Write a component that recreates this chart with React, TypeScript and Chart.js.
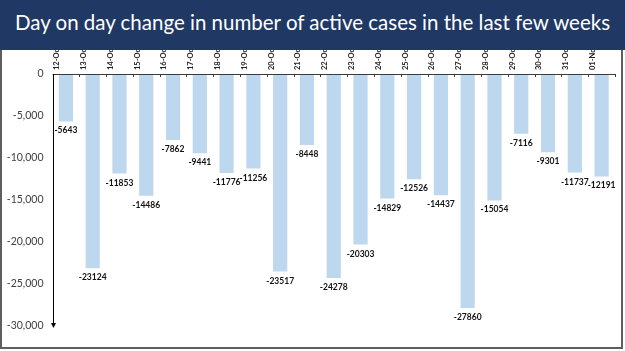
import React, { useEffect, useRef } from "react";
import { Chart, registerables } from "chart.js";

Chart.register(...registerables);

const TITLE = "Day on day change in number of active cases in the last few weeks";

const categories = [
  "12-Oct", "13-Oct", "14-Oct", "15-Oct", "16-Oct", "17-Oct", "18-Oct",
  "19-Oct", "20-Oct", "21-Oct", "22-Oct", "23-Oct", "24-Oct", "25-Oct",
  "26-Oct", "27-Oct", "28-Oct", "29-Oct", "30-Oct", "31-Oct", "01-Nov",
];

const changes = [
  -5643, -23124, -11853, -14486, -7862, -9441, -11776,
  -11256, -23517, -8448, -24278, -20303, -14829, -12526,
  -14437, -27860, -15054, -7116, -9301, -11737, -12191,
];

const yMin = -30000;
const yMax = 0;
const yStep = 5000;

const axisPlugin = {
  id: "axisDecor",
  afterDatasetsDraw(chart: any) {
    const { ctx, chartArea } = chart;
    const ys = chart.scales.y;
    const y0 = ys.getPixelForValue(0);
    ctx.save();
    ctx.strokeStyle = "#3a3a3a";
    ctx.lineWidth = 1;
    ctx.beginPath();
    ctx.moveTo(chartArea.left, Math.round(y0) + 0.5);
    ctx.lineTo(chartArea.right, Math.round(y0) + 0.5);
    ctx.stroke();
    const n = categories.length;
    const w = (chartArea.right - chartArea.left) / n;
    for (let i = 0; i <= n; i++) {
      const x = Math.round(chartArea.left + i * w) + 0.5;
      ctx.beginPath();
      ctx.moveTo(x, y0);
      ctx.lineTo(x, y0 + 3);
      ctx.stroke();
    }
    const xl = Math.round(chartArea.left) + 0.5;
    ctx.strokeStyle = "#000";
    ctx.beginPath();
    ctx.moveTo(xl, y0);
    ctx.lineTo(xl, chartArea.bottom - 2);
    ctx.stroke();
    ctx.fillStyle = "#000";
    ctx.beginPath();
    ctx.moveTo(xl - 2.5, chartArea.bottom - 3);
    ctx.lineTo(xl + 2.5, chartArea.bottom - 3);
    ctx.lineTo(xl, chartArea.bottom + 2);
    ctx.closePath();
    ctx.fill();
    const meta = chart.getDatasetMeta(0);
    ctx.font = "bold 8.5px Lato, 'Open Sans', sans-serif";
    ctx.textAlign = "center";
    ctx.textBaseline = "top";
    ctx.fillStyle = "#111";
    meta.data.forEach((el: any, i: number) => {
      ctx.fillText(String(changes[i]), el.x, el.y + 5);
    });
    ctx.restore();
  },
};

export default function App() {
  const ref = useRef<HTMLCanvasElement | null>(null);

  useEffect(() => {
    if (!ref.current) return;
    const chart = new Chart(ref.current, {
      type: "bar",
      data: {
        labels: categories,
        datasets: [
          {
            data: changes,
            backgroundColor: "#BDD7EE",
            borderWidth: 0,
            categoryPercentage: 1,
            barPercentage: 0.53,
          },
        ],
      },
      options: {
        responsive: false,
        animation: false,
        layout: { padding: { top: 0, left: 0, right: 10, bottom: 25 } },
        plugins: {
          legend: { display: false },
          title: { display: false },
          tooltip: { enabled: false },
        },
        scales: {
          x: {
            position: "top",
            grid: { display: false, drawTicks: false },
            border: { display: false },
            ticks: {
              minRotation: 90,
              maxRotation: 90,
              autoSkip: false,
              padding: 4,
              color: "#222",
              font: { family: "Lato, 'Open Sans', sans-serif", size: 7.5, weight: "bold" },
            },
            afterFit: (s: any) => {
              s.height = 74;
            },
          },
          y: {
            min: yMin,
            max: yMax,
            grid: { display: false, drawTicks: false },
            border: { display: false },
            ticks: {
              stepSize: yStep,
              padding: 9,
              color: "#404040",
              font: { family: "Lato, 'Open Sans', sans-serif", size: 10.5 },
              callback: (v: any) => Number(v).toLocaleString("en-US"),
            },
            afterFit: (s: any) => {
              s.width = 52.5;
            },
          },
        },
      },
      plugins: [axisPlugin],
    });
    return () => chart.destroy();
  }, []);

  return (
    <div
      style={{
        position: "fixed",
        left: 0,
        top: 0,
        width: 625,
        height: 351,
        background: "#fff",
        overflow: "hidden",
      }}
    >
      <div
        style={{
          position: "absolute",
          left: 0,
          top: 0,
          width: 623,
          height: 349,
          border: "2px solid #5f5f5f",
          boxSizing: "border-box",
        }}
      />
      <canvas
        ref={ref}
        width={625}
        height={351}
        style={{ position: "absolute", left: 0, top: 0 }}
      />
      <div
        style={{
          position: "absolute",
          left: 0,
          top: 0,
          width: 625,
          height: 50,
          background: "#1F3864",
          color: "#fff",
          fontFamily: "Lato, 'Open Sans', sans-serif",
          fontSize: 20.5,
          lineHeight: "44px",
          textAlign: "center",
          whiteSpace: "nowrap",
        }}
      >
        {TITLE}
      </div>
    </div>
  );
}
